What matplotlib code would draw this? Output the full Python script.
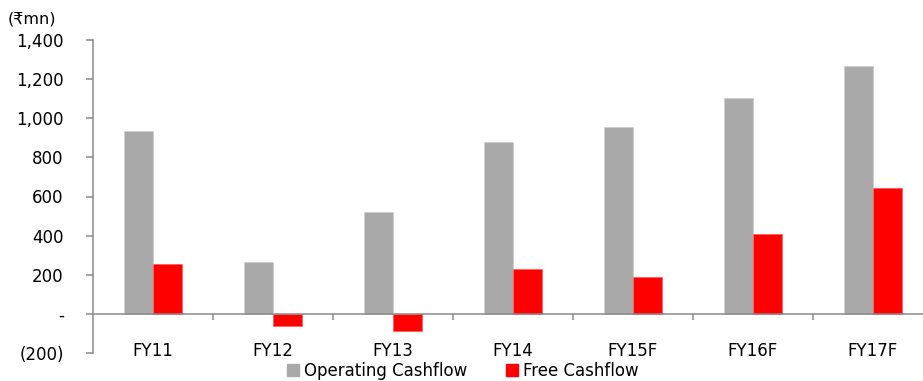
import matplotlib
matplotlib.use("Agg")
import matplotlib.pyplot as plt
from matplotlib.ticker import FixedLocator, FuncFormatter
from matplotlib.patches import Patch
import numpy as np

categories = ["FY11", "FY12", "FY13", "FY14", "FY15F", "FY16F", "FY17F"]
operating_cf = [937, 267, 520, 881, 953, 1106, 1268]
free_cf = [256, -64, -90, 227, 187, 410, 646]
series_names = ["Operating Cashflow", "Free Cashflow"]
yticks = [-200, 0, 200, 400, 600, 800, 1000, 1200, 1400]

plt.rcParams['font.family'] = ['DejaVu Sans']

fig = plt.figure(figsize=(9.23, 3.81), dpi=100)
ax = fig.add_axes([93/923, 1-353/381, 840/923, (353-40)/381])

x = np.arange(len(categories))
w = 0.24
gray = "#A9A9A9"
red = "#FF0000"
ax.bar(x - w/2, operating_cf, width=w, color=gray, edgecolor="#d0d0d0", linewidth=0.6)
ax.bar(x + w/2, free_cf, width=w, color=red, edgecolor="#ff6060", linewidth=0.6)

ax.set_xlim(-0.5, 6.5)
ax.set_ylim(-200, 1400)

for s in ["top", "right"]:
    ax.spines[s].set_visible(False)
spc = "#8a8a8a"
ax.spines["left"].set_color(spc)
ax.spines["left"].set_linewidth(1.1)
ax.spines["bottom"].set_position(("data", 0))
ax.spines["bottom"].set_color(spc)
ax.spines["bottom"].set_linewidth(1.1)

ax.set_yticks(yticks)
def fmt(v, pos):
    v = int(round(v))
    if v == 0:
        return "-"
    if v < 0:
        return "({:,})".format(-v)
    return "{:,}".format(v)
ax.yaxis.set_major_formatter(FuncFormatter(fmt))
ax.tick_params(axis='y', length=5, width=1.1, color=spc, pad=16, labelsize=12, labelcolor="black")

ax.set_xticks(x)
ax.set_xticklabels(categories)
ax.xaxis.set_minor_locator(FixedLocator(np.arange(0.5, 6.6, 1.0)))
ax.tick_params(axis='x', which='major', length=0, pad=20, labelsize=12)
ax.tick_params(axis='x', which='minor', length=4.5, width=1.1, color=spc, direction='out')

fig.text(8/923, 1-19/381, "(\u20b9mn)", fontsize=11.5, va="center", ha="left")

handles = [Patch(facecolor=gray, edgecolor=gray), Patch(facecolor=red, edgecolor=red)]
fig.legend(handles, series_names, loc="center", bbox_to_anchor=(463/923, 1-371/381),
           ncol=2, frameon=False, fontsize=12, handlelength=0.75, handleheight=0.75,
           handletextpad=0.3, columnspacing=2.3, borderpad=0.1)

fig.savefig("out.png", dpi=100)
